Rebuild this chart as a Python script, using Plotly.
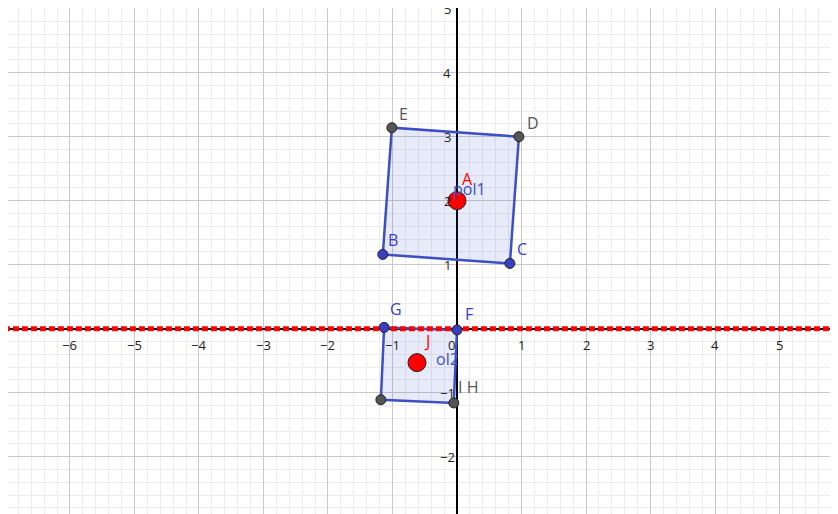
import plotly.graph_objects as go

# polygon 1 vertices
pol1_x = [-1.15, -1.01, 0.96, 0.82]
pol1_y = [1.16, 3.14, 3.0, 1.02]
pol1_names = ["B", "E", "D", "C"]
pol1_colors = ["#3a3fbf", "#555555", "#555555", "#3a3fbf"]

# polygon 2 vertices
pol2_x = [-1.13, 0.0, -0.05, -1.18]
pol2_y = [0.02, -0.02, -1.16, -1.11]
pol2_names = ["G", "F", "I H", ""]
pol2_colors = ["#3a3fbf", "#3a3fbf", "#555555", "#555555"]

centers_x = [0.0, -0.62]
centers_y = [2.0, -0.53]
centers_names = ["A", "J"]

x_ticks = [-7, -6, -5, -4, -3, -2, -1, 0, 1, 2, 3, 4, 5, 6]
y_ticks = [-3, -2, -1, 1, 2, 3, 4, 5]

BLUE = "#3d4fc4"
fig = go.Figure()

for xs, ys in [(pol1_x, pol1_y), (pol2_x, pol2_y)]:
    fig.add_trace(go.Scatter(
        x=xs + xs[:1], y=ys + ys[:1], mode="lines", fill="toself",
        fillcolor="rgba(61,79,196,0.12)", line=dict(color=BLUE, width=2.5),
        hoverinfo="skip"))

# red dashed line y = 0
fig.add_trace(go.Scatter(x=[-8, 7], y=[0, 0], mode="lines",
                         line=dict(color="#ff0000", width=5, dash="6px,3px")))

fig.add_trace(go.Scatter(
    x=pol1_x + pol2_x, y=pol1_y + pol2_y, mode="markers",
    marker=dict(size=10, color=pol1_colors + pol2_colors,
                line=dict(color="#222222", width=1))))
fig.add_trace(go.Scatter(
    x=centers_x, y=centers_y, mode="markers",
    marker=dict(size=18, color="#ff0000", line=dict(color="#222222", width=1))))

ann = []
offs = {"B": (10, -14), "E": (12, -14), "D": (14, -14), "C": (12, -14),
        "G": (12, -18), "F": (12, -16), "I H": (14, -16)}
for xs, ys, ns, cs in [(pol1_x, pol1_y, pol1_names, pol1_colors),
                       (pol2_x, pol2_y, pol2_names, pol2_colors)]:
    for x, y, n, c in zip(xs, ys, ns, cs):
        if n:
            dx, dy = offs[n]
            ann.append(dict(x=x, y=y, text=n, showarrow=False, xshift=dx,
                            yshift=-dy, font=dict(size=16, color=c)))
for x, y, n in zip(centers_x, centers_y, centers_names):
    ann.append(dict(x=x, y=y, text=n, showarrow=False, xshift=10, yshift=22,
                    font=dict(size=16, color="#ff0000")))
ann.append(dict(x=0.0, y=2.0, text="pol1", showarrow=False, xshift=12, yshift=12,
                font=dict(size=16, color=BLUE)))
ann.append(dict(x=-0.62, y=-0.53, text="ol2", showarrow=False, xshift=30, yshift=4,
                font=dict(size=16, color=BLUE)))
for t in x_ticks:
    ann.append(dict(x=t, y=0, text=str(t).replace("-", "−"), showarrow=False,
                    xshift=-6 if t == 0 else 0, yshift=-16,
                    font=dict(size=13, color="#222222")))
for t in y_ticks:
    ann.append(dict(x=0, y=t, text=str(t).replace("-", "−"), showarrow=False,
                    xshift=-10, font=dict(size=13, color="#222222")))

fig.update_layout(
    width=838, height=514,
    margin=dict(l=0, r=0, t=0, b=0, pad=0, autoexpand=False),
    plot_bgcolor="white", paper_bgcolor="white", showlegend=False,
    annotations=ann,
    xaxis=dict(range=[-6.96, 6.03], dtick=1, showticklabels=False,
               gridcolor="#c8c8c8", zeroline=True, zerolinecolor="black",
               zerolinewidth=1.5, automargin=False,
               minor=dict(dtick=0.2, gridcolor="#ececec", showgrid=True)),
    yaxis=dict(range=[-3.02, 5.01], dtick=1, showticklabels=False,
               gridcolor="#c8c8c8", zeroline=True, zerolinecolor="black",
               zerolinewidth=1.5, automargin=False,
               minor=dict(dtick=0.2, gridcolor="#ececec", showgrid=True)),
)
fig.write_html("out.html")
